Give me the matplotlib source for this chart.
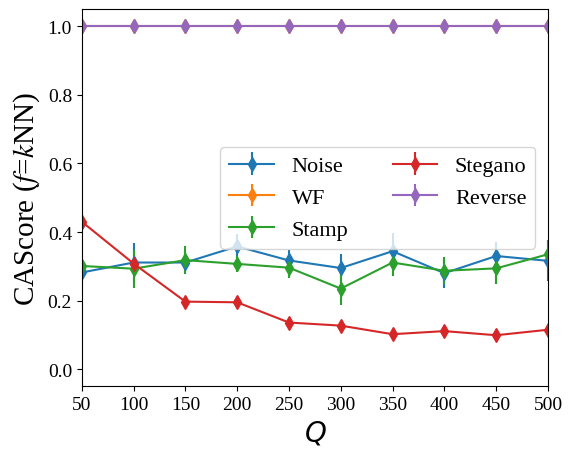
import matplotlib
matplotlib.use("Agg")
import matplotlib.pyplot as plt
import numpy as np

plt.rcParams['font.family'] = ['Liberation Serif', 'DejaVu Serif']

Q = [50, 100, 150, 200, 250, 300, 350, 400, 450, 500]
noise = [0.282, 0.311, 0.311, 0.358, 0.317, 0.295, 0.344, 0.280, 0.330, 0.316]
noise_err = [0.03, 0.058, 0.034, 0.036, 0.03, 0.04, 0.053, 0.044, 0.04, 0.06]
wf = [1.0] * 10
wf_err = [0.0] * 10
stamp = [0.301, 0.293, 0.318, 0.307, 0.296, 0.235, 0.311, 0.287, 0.294, 0.335]
stamp_err = [0.02, 0.055, 0.04, 0.024, 0.03, 0.048, 0.038, 0.039, 0.045, 0.04]
stegano = [0.430, 0.308, 0.197, 0.195, 0.136, 0.127, 0.102, 0.111, 0.099, 0.115]
stegano_err = [0.005] * 10
reverse = [1.0] * 10
reverse_err = [0.0] * 10

series = [("Noise", noise, noise_err, "#1f77b4"),
          ("WF", wf, wf_err, "#ff7f0e"),
          ("Stamp", stamp, stamp_err, "#2ca02c"),
          ("Stegano", stegano, stegano_err, "#d62728"),
          ("Reverse", reverse, reverse_err, "#9467bd")]

fig, ax = plt.subplots(figsize=(5.72, 4.6), dpi=100)
fig.subplots_adjust(left=0.143, right=0.958, top=0.978, bottom=0.158)

for name, y, e, c in series:
    ax.errorbar(Q, y, yerr=e, marker='d', markersize=7, color=c, label=name, linewidth=1.5)

ax.set_xlim(50, 500)
ax.set_ylim(-0.05, 1.05)
ax.set_xticks(Q)
ax.tick_params(labelsize=14)
ax.set_xlabel("$Q$", fontsize=20, math_fontfamily='dejavusans')
ax.set_ylabel("CAScore ($f$=$k$NN)", fontsize=21, math_fontfamily='stix')
ax.legend(ncol=2, fontsize=16, loc='center right', bbox_to_anchor=(0.997, 0.5))

fig.savefig("out.png", dpi=100)
